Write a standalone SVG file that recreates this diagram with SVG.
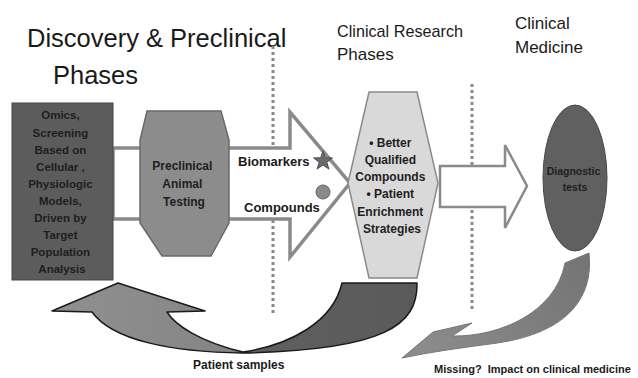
<svg xmlns="http://www.w3.org/2000/svg" width="638" height="378" viewBox="0 0 638 378">
<defs>
<style>
.title{font-family:"Liberation Sans",Arial,sans-serif;fill:#1a1a1a}
.b{font-family:"Liberation Sans",Arial,sans-serif;font-weight:bold;text-anchor:middle;fill:#1e1e1e}
.lbl{font-family:"Liberation Sans",Arial,sans-serif;font-weight:bold;fill:#1a1a1a}
.dots{stroke:#8a8a8a;stroke-width:3;stroke-dasharray:3 3;fill:none}
.outline{fill:#fff;stroke:#8a8a8a;stroke-linejoin:miter}
</style>
<linearGradient id="gBand" gradientUnits="userSpaceOnUse" x1="52" y1="0" x2="417" y2="0">
<stop offset="0" stop-color="#909090"/>
<stop offset="0.48" stop-color="#858585"/>
<stop offset="0.56" stop-color="#5f5f5f"/>
<stop offset="1" stop-color="#5a5a5a"/>
</linearGradient>
<linearGradient id="gBand2" gradientUnits="userSpaceOnUse" x1="402" y1="358" x2="589" y2="253">
<stop offset="0" stop-color="#8e8e8e"/>
<stop offset="1" stop-color="#747474"/>
</linearGradient>
</defs>
<rect width="638" height="378" fill="#fff"/>

<g id="headings">
<text class="title" x="27" y="47" font-size="25.5">Discovery &amp; Preclinical</text>
<text class="title" x="53" y="84" font-size="25.5">Phases</text>
<text class="title" x="337" y="37" font-size="17" textLength="126" lengthAdjust="spacingAndGlyphs">Clinical Research</text>
<text class="title" x="337" y="60" font-size="17">Phases</text>
<text class="title" x="515" y="29" font-size="17">Clinical</text>
<text class="title" x="515" y="53" font-size="17">Medicine</text>
</g>

<g id="phase-dividers">
<line class="dots" x1="273" y1="46" x2="273" y2="316"/>
<line class="dots" x1="472" y1="84" x2="472" y2="310"/>
</g>

<g id="connectors">
<polygon id="big-arrow" class="outline" stroke-width="3.5" points="113,148 290,148 290,112 350,183 290,257 290,219 113,219"/>
<polygon id="small-arrow" class="outline" stroke-width="2.5" points="440,166 505,166 505,145 527,186 505,228 505,207 440,207"/>
<path id="patient-samples-arrow" d="M52,311 L118,283 L205,311 L167,312 C175,325 200,342 243,352 C290,345 333,322 342,283 L417,283 C418,325 385,350 243,353 C170,352 112,340 92,312 Z" fill="url(#gBand)" stroke="#1a1a1a" stroke-width="1.5" stroke-linejoin="round"/>
<path id="missing-arrow" d="M402,358 L433,332 L472,323 L452,336 C500,337 556,312 565,263 L589,253 C594,300 565,335 490,344 C460,348 430,352 402,358 Z" fill="url(#gBand2)" stroke="#777" stroke-width="1"/>
</g>

<g id="discovery-box">
<rect x="12" y="103" width="101" height="177" fill="#5c5c5c" stroke="#444" stroke-width="1"/>
<text class="b" font-size="11.5">
<tspan x="62" y="119">Omics,</tspan>
<tspan x="62" y="137">Screening</tspan>
<tspan x="62" y="154">Based on</tspan>
<tspan x="62" y="171">Cellular ,</tspan>
<tspan x="62" y="188">Physiologic</tspan>
<tspan x="62" y="205">Models,</tspan>
<tspan x="62" y="222">Driven by</tspan>
<tspan x="62" y="239">Target</tspan>
<tspan x="62" y="256">Population</tspan>
<tspan x="62" y="273">Analysis</tspan>
</text>
</g>

<g id="preclinical-animal-testing">
<polygon points="147,111 221,111 229,140 229,223 211,256 162,256 140,223 140,140" fill="#8c8c8c" stroke="#6a6a6a" stroke-width="1.5"/>
<text class="b" font-size="12">
<tspan x="184" y="170">Preclinical</tspan>
<tspan x="184" y="188">Animal</tspan>
<tspan x="184" y="206">Testing</tspan>
</text>
</g>

<g id="biomarkers">
<text class="lbl" x="238" y="166" font-size="13">Biomarkers</text>
<polygon points="323,151 325.4,157.8 332.5,157.9 326.8,162.2 328.9,169.1 323,165 317.1,169.1 319.2,162.2 313.5,157.9 320.6,157.8" fill="#6a6a6a" stroke="#505050" stroke-width="1"/>
</g>

<g id="compounds">
<text class="lbl" x="244" y="212" font-size="13">Compounds</text>
<circle cx="323" cy="192" r="7" fill="#8a8a8a" stroke="#666" stroke-width="1"/>
</g>

<g id="clinical-research">
<polygon points="369,92 417,92 438,183 417,278 369,278 348,183" fill="#d9d9d9" stroke="#8a8a8a" stroke-width="1.5"/>
<text class="b" font-size="12">
<tspan x="392" y="147">• Better</tspan>
<tspan x="392" y="164">Qualified</tspan>
<tspan x="392" y="181">Compounds</tspan>
<tspan x="392" y="198">• Patient</tspan>
<tspan x="392" y="216">Enrichment</tspan>
<tspan x="392" y="233">Strategies</tspan>
</text>
</g>

<g id="diagnostic-tests">
<ellipse cx="575" cy="178" rx="32" ry="73" fill="#606060" stroke="#4a4a4a" stroke-width="1"/>
<text class="b" font-size="10.5">
<tspan x="575" y="175">Diagnostic</tspan>
<tspan x="575" y="191">tests</tspan>
</text>
</g>

<g id="captions">
<text class="lbl" x="193" y="369" font-size="12">Patient samples</text>
<text class="lbl" x="434" y="373" font-size="11" style="white-space:pre">Missing?  Impact on clinical medicine</text>
</g>
</svg>
